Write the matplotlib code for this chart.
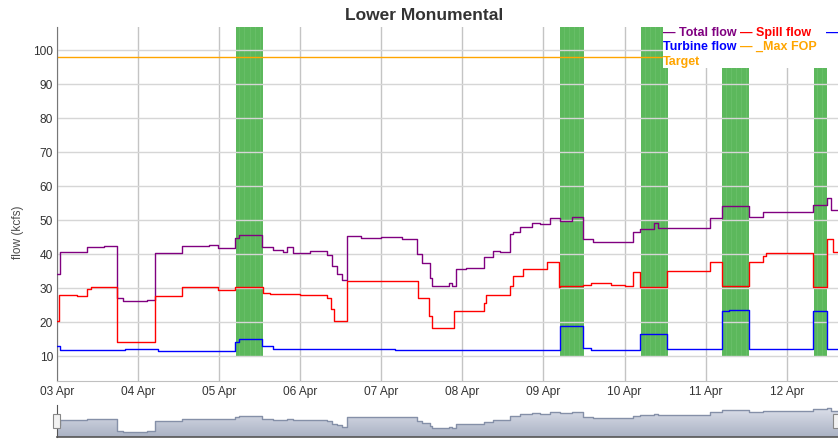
import matplotlib
matplotlib.use('Agg')
import matplotlib.pyplot as plt
from matplotlib.patches import Rectangle
import numpy as np

plt.rcParams['font.family'] = ['Liberation Sans', 'DejaVu Sans']

# ---------------- data (hours since 03 Apr 00:00) ----------------
day_labels = ["03 Apr", "04 Apr", "05 Apr", "06 Apr", "07 Apr",
              "08 Apr", "09 Apr", "10 Apr", "11 Apr", "12 Apr"]

total_hours = [0, 1, 9, 14, 17.7, 19.5, 26.6, 29, 37, 45,
               47.6, 52.6, 54, 60.8, 64, 67, 68, 70, 75, 80,
               81.4, 83, 84.4, 85.8, 90, 96, 102, 106.6, 108, 110.5,
               111, 116, 117, 118, 121, 126.5, 129, 131, 134, 135,
               137, 140.6, 143, 146, 149, 152.4, 155.7, 158.7, 170.5, 172.6,
               176.7, 178, 193.3, 196.9, 204.9, 209, 223.8, 228, 229.2, 231.2]
total_flow = [34, 40.5, 42, 42.5, 27, 26.2, 26.6, 40.2, 42.3, 42.7,
              41.9, 44.8, 45.6, 42.2, 41.2, 40.6, 42.2, 40.4, 40.8, 39.6,
              36.4, 34, 32.5, 45.2, 44.6, 45, 44.5, 40, 37.5, 33,
              30.5, 31.6, 30.5, 35.5, 36, 39, 40.8, 40.5, 46, 46.6,
              48, 49.2, 48.7, 50.7, 49.6, 51, 44.3, 43.4, 46.6, 47.5,
              49, 47.8, 50.7, 54, 51, 52.5, 54.5, 56.5, 53, 53]

spill_hours = [0, 0.7, 6, 9, 10, 17.7, 29, 37, 41, 47.6,
               52.6, 61, 63, 72, 80, 81, 82, 85.8, 107, 110,
               111, 117.6, 126.5, 127, 134, 135, 138, 145, 148.6, 149,
               155.7, 158, 164, 168, 170.5, 172.6, 180.6, 193.3, 196.9, 204.9,
               209, 210, 223.8, 228, 229.8, 231.2]
spill_flow = [20.2, 28, 27.6, 29.6, 30.2, 14.2, 27.8, 30.4, 30.2, 29.4,
              30.4, 28.5, 28.1, 27.9, 27.2, 23.8, 20.3, 32, 27.2, 21.8,
              18.2, 23.2, 25.7, 27.9, 30.5, 33.4, 35.5, 37.8, 30.2, 30.5,
              30.8, 31.5, 31, 30.5, 34.6, 30.2, 35, 37.8, 30.5, 37.8,
              39.3, 40.2, 30.2, 44.3, 40.5, 40.5]

turbine_hours = [0, 1, 20, 30, 52.6, 54, 60.8, 64, 90, 100,
                 130, 149, 155.7, 158, 172.6, 180.6, 196.9, 199, 204.9, 223.8,
                 228, 231.2]
turbine_flow = [13, 11.8, 12, 11.6, 14.2, 15, 13, 12, 12.1, 11.8,
                11.7, 18.8, 12.3, 11.9, 16.4, 12, 23.2, 23.6, 12, 23.2,
                12.2, 12.2]

max_fop_target = 98

band_start = [53, 149, 173, 197, 224]
band_end = [61, 156, 181, 205, 228]
band_bottom = 10
band_top = 110

# ---------------- figure ----------------
W, H = 838, 442
fig = plt.figure(figsize=(W / 100, H / 100), dpi=100)


def fx(x):
    return x / W


def fy(y):
    return 1 - y / H


ax = fig.add_axes([fx(57), fy(381), fx(838) - fx(57), fy(27) - fy(381)])
ax.set_xlim(0, 231.2)
ax.set_ylim(2.65, 106.8)
ax.set_axisbelow('line')

# green bands with faint stripes
for s, e in zip(band_start, band_end):
    ax.bar(s, band_top - band_bottom, bottom=band_bottom, width=e - s,
           align='edge', color='#5cb85c', edgecolor='none', zorder=1)
    ax.vlines(np.arange(s + 1.0, e, 1.5), band_bottom, band_top,
              color='#6ac06a', lw=0.6, zorder=1.1)

ax.axhline(max_fop_target, color='#ffa500', lw=1.0, zorder=2)
ax.step(total_hours, total_flow, where='post', color='#800080', lw=1.0, zorder=3)
ax.step(spill_hours, spill_flow, where='post', color='#ff0000', lw=1.0, zorder=3)
ax.step(turbine_hours, turbine_flow, where='post', color='#0000ff', lw=1.0, zorder=3)

ax.set_yticks(range(10, 101, 10))
ax.set_xticks([24 * i for i in range(len(day_labels))])
ax.set_xticklabels(day_labels)
ax.grid(axis='y', color='#d6d6d6', lw=1.0)
ax.grid(axis='x', color='#c4c4c4', lw=1.0)
ax.tick_params(axis='both', length=0, labelsize=8.6, colors='#333333')
ax.tick_params(axis='y', pad=3.0)
ax.tick_params(axis='x', pad=3.6)
for sp in ['top', 'right']:
    ax.spines[sp].set_visible(False)
ax.spines['left'].set_color('#777777')
ax.spines['bottom'].set_color('#c0c0c0')

fig.text(fx(18), fy(232), 'flow (kcfs)', rotation=90, ha='center', va='center',
         fontsize=8.6, color='#4d4d4d')
fig.text(fx(424), fy(15), 'Lower Monumental', ha='center', va='center',
         fontsize=12.5, fontweight='bold', color='#333333')

# legend box and entries
fig.add_artist(Rectangle((fx(663), fy(68)), fx(838) - fx(663), fy(24) - fy(68),
                         transform=fig.transFigure, facecolor='white',
                         edgecolor='none', zorder=5))
leg = [
    ('\u2014 Total flow', '#800080', 663, 33),
    ('\u2014 Spill flow', '#ff0000', 740, 33),
    ('\u2014', '#0000ff', 826, 33),
    ('Turbine flow', '#0000ff', 663, 47),
    ('\u2014 _Max FOP', '#ffa500', 740, 47),
    ('Target', '#ffa500', 663, 62),
]
for txt, col, x, y in leg:
    fig.text(fx(x), fy(y), txt, ha='left', va='center', fontsize=9,
             fontweight='bold', color=col, zorder=6)

# navigator
nav = fig.add_axes([fx(57), fy(437), fx(838) - fx(57), fy(405) - fy(437)])
nav.set_xlim(0, 231.2)
nav.set_ylim(19.3, 60)
poly = nav.fill_between(total_hours, total_flow, 0, step='post',
                        color='none', lw=0)
grad = np.linspace(0, 1, 100).reshape(-1, 1)
img = nav.imshow(grad, extent=[0, 231.2, 19.3, 60], aspect='auto',
                 cmap=matplotlib.colors.LinearSegmentedColormap.from_list(
                     'g', ['#aab2c4', '#e2e5ee']), origin='lower', zorder=1)
img.set_clip_path(poly.get_paths()[0], transform=nav.transData)
nav.step(total_hours, total_flow, where='post', color='#8590a8', lw=1.0, zorder=2)
nav.set_xticks([])
nav.set_yticks([])
for sp in ['top', 'right']:
    nav.spines[sp].set_visible(False)
nav.spines['left'].set_color('#555555')
nav.spines['bottom'].set_color('#555555')
nav.spines['bottom'].set_linewidth(1.2)

for hx in (53, 833):
    fig.add_artist(Rectangle((fx(hx), fy(428)), fx(7), fy(414) - fy(428),
                             transform=fig.transFigure, facecolor='#f2f2f2',
                             edgecolor='#888888', lw=0.8, zorder=5))

fig.savefig('out.png', dpi=100)
